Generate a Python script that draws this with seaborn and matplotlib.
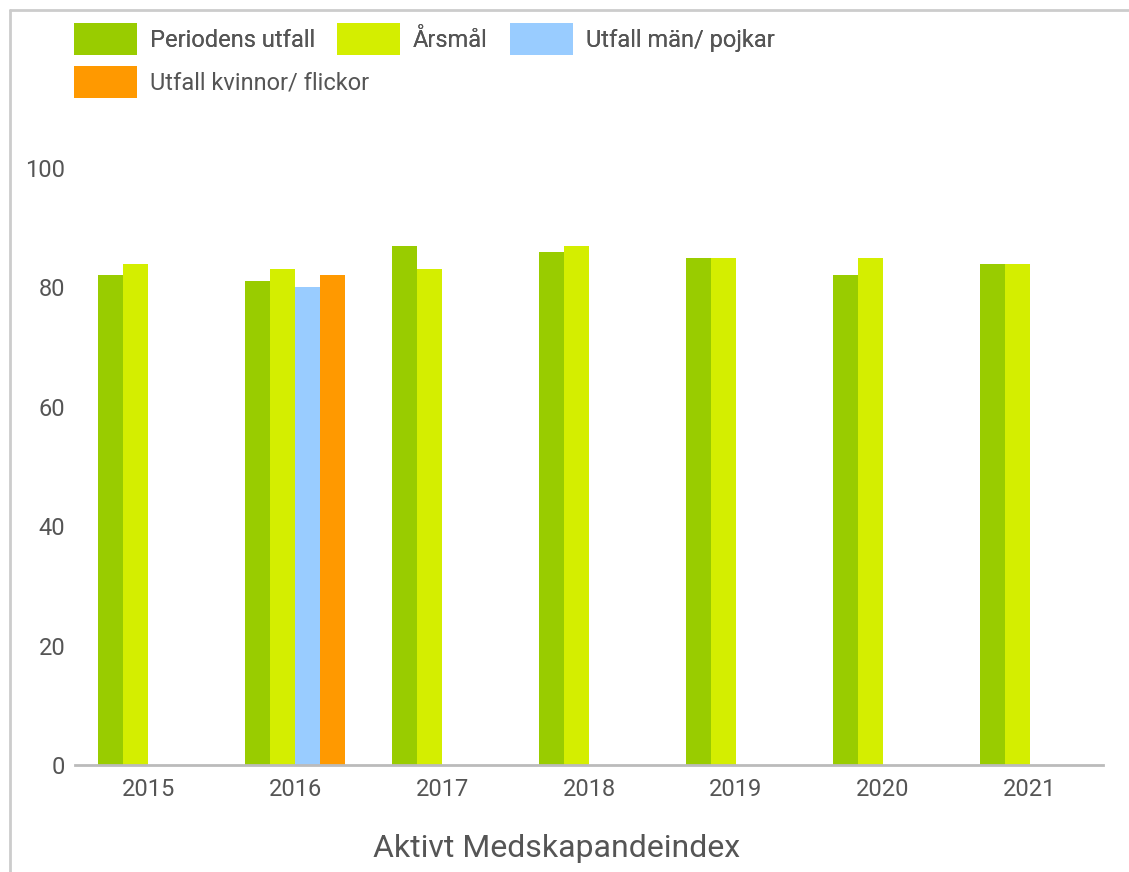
#!/usr/bin/env python3

import numpy as np
import pandas as pd
import seaborn as sns
from matplotlib import pyplot as plt
from matplotlib.lines import Line2D
from matplotlib.patches import Patch

years = ["2015", "2016", "2017", "2018", "2019", "2020", "2021"]
series = ["Periodens utfall", "Årsmål", "Utfall män/ pojkar", "Utfall kvinnor/ flickor"]
periodens_utfall = [82, 81, 87, 86, 85, 82, 84]
arsmal = [84, 83, 83, 87, 85, 85, 84]
utfall_man = [np.nan, 80, np.nan, np.nan, np.nan, np.nan, np.nan]
utfall_kvinnor = [np.nan, 82, np.nan, np.nan, np.nan, np.nan, np.nan]
colors = ["#99cc00", "#d4ee00", "#99ccff", "#ff9900"]

TEXT = "#555555"
W, H = 1129, 872


def build_df():
    rows = []
    for name, values in zip(series, [periodens_utfall, arsmal, utfall_man, utfall_kvinnor]):
        for year, v in zip(years, values):
            rows.append((year, name, v))
    return pd.DataFrame(rows, columns=["year", "serie", "value"])


def main():
    sns.set_style("white")
    plt.rcParams["font.family"] = ["Roboto", "DejaVu Sans"]

    df = build_df()
    fig = plt.figure(figsize=(W / 100, H / 100), dpi=100)
    ax = fig.add_axes([75 / W, 107 / H, 1028 / W, 597 / H])

    sns.barplot(data=df, x="year", y="value", hue="serie", order=years,
                hue_order=series, palette=colors, width=0.68, gap=0,
                saturation=1, linewidth=0, legend=False, ax=ax)

    ax.set_xlim(-0.5, len(years) - 0.5)
    ax.set_ylim(0, 100)
    ax.set_yticks(range(0, 101, 20))
    for side in ["top", "right", "left"]:
        ax.spines[side].set_visible(False)
    ax.spines["bottom"].set_color("#bbbbbb")
    ax.spines["bottom"].set_linewidth(2)
    ax.tick_params(axis="both", length=0, labelsize=17, labelcolor=TEXT)
    ax.tick_params(axis="x", pad=9)
    ax.tick_params(axis="y", pad=7)
    ax.set_ylabel("")
    ax.set_xlabel("Aktivt Medskapandeindex", fontsize=23, color=TEXT)
    ax.xaxis.label.set_va("center")
    ax.xaxis.set_label_coords((557 - 75) / 1028, -0.14)

    handles = [Patch(facecolor=c, edgecolor="none") for c in colors]
    leg_kw = dict(loc="upper left", frameon=False, fontsize=17,
                  handlelength=2.67, handleheight=1.71, handletextpad=0.55,
                  columnspacing=0.93, borderpad=0, borderaxespad=0,
                  labelcolor=TEXT)
    leg1 = fig.legend(handles[:3], series[:3], ncol=3,
                      bbox_to_anchor=(74 / W, 1 - 23 / H), **leg_kw)
    fig.add_artist(leg1)
    fig.legend(handles[3:], series[3:],
               bbox_to_anchor=(74 / W, 1 - 66 / H), **leg_kw)

    # outer frame (left and top only)
    fig.add_artist(Line2D([10 / W, 10 / W], [0, 1 - 10 / H],
                          transform=fig.transFigure, color="#cccccc", lw=2))
    fig.add_artist(Line2D([10 / W, 1], [1 - 10 / H, 1 - 10 / H],
                          transform=fig.transFigure, color="#cccccc", lw=2))

    fig.savefig("out.png", dpi=100)


if __name__ == "__main__":
    main()
